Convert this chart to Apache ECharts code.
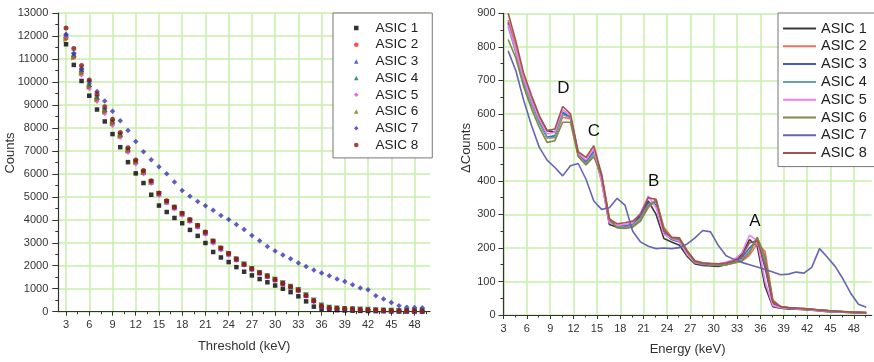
<!DOCTYPE html>
<html><head><meta charset="utf-8">
<script src="https://cdn.jsdelivr.net/npm/echarts@6/dist/echarts.min.js"></script>
<style>html,body{margin:0;padding:0;background:#fff}#c{width:874px;height:362px}</style>
</head><body><div id="c"></div>
<script>
// ---------- Data ----------
const asicNames = ['ASIC 1','ASIC 2','ASIC 3','ASIC 4','ASIC 5','ASIC 6','ASIC 7','ASIC 8'];

// Left chart: integral counts vs threshold
const thresholds = [3,4,5,6,7,8,9,10,11,12,13,14,15,16,17,18,19,20,21,22,23,24,25,26,27,28,29,30,31,32,33,34,35,36,37,38,39,40,41,42,43,44,45,46,47,48,49];
const counts1 = [11640,10740,10040,9400,8800,8280,7730,7160,6510,6020,5600,5090,4620,4340,4080,3850,3560,3300,2990,2600,2360,2160,1940,1740,1580,1420,1280,1140,1000,850,670,450,220,120,100,70,55,45,35,30,25,20,15,12,10,8,6];
const counts2 = [11900,11100,10400,9800,9250,8720,8200,7650,7000,6500,6050,5630,5120,4780,4520,4250,3960,3720,3430,3050,2740,2510,2270,2060,1860,1690,1540,1390,1230,1080,930,700,470,250,170,150,125,115,105,90,75,60,50,45,40,35,30];
const counts3 = [12050,11200,10550,9900,9350,8800,8280,7720,7060,6550,6090,5660,5140,4790,4530,4260,3980,3730,3440,3060,2750,2520,2280,2060,1870,1700,1550,1400,1240,1090,940,720,490,270,180,155,130,118,105,92,78,63,52,46,41,36,31];
const counts4 = [11950,11150,10450,9850,9300,8750,8230,7680,7030,6520,6070,5640,5130,4790,4530,4260,3970,3730,3440,3060,2750,2520,2280,2070,1870,1700,1550,1400,1250,1100,950,730,500,280,185,155,130,118,105,92,78,63,52,46,41,36,31];
const counts5 = [11950,11050,10300,9700,9150,8620,8100,7580,6930,6430,5990,5580,5060,4730,4470,4200,3910,3680,3370,2980,2690,2460,2230,2020,1830,1660,1510,1360,1210,1060,900,670,430,220,150,130,115,105,95,82,70,58,48,42,38,33,28];
const counts6 = [11850,11050,10380,9780,9230,8700,8190,7640,7000,6500,6060,5640,5140,4800,4540,4270,3990,3750,3460,3090,2780,2550,2310,2090,1890,1720,1570,1420,1260,1110,960,740,510,290,190,158,132,120,108,95,80,65,54,48,43,38,33];
const counts7 = [12070,11250,10570,10030,9580,9170,8720,8310,7890,7410,6960,6610,6310,6000,5650,5280,5020,4800,4610,4410,4190,4010,3800,3580,3320,3090,2840,2640,2470,2300,2120,1970,1820,1680,1560,1420,1310,1170,1030,950,690,550,400,255,195,180,175];
const counts8 = [12350,11450,10720,10080,9480,8920,8380,7800,7130,6600,6150,5700,5170,4830,4560,4290,4010,3760,3470,3080,2770,2530,2290,2070,1870,1700,1550,1400,1240,1090,940,710,480,250,170,150,130,115,100,90,75,60,50,45,40,35,30];

// Right chart: differential counts vs energy
const energies = [3.6,4.6,5.6,6.6,7.6,8.6,9.6,10.6,11.6,12.6,13.6,14.6,15.6,16.6,17.6,18.6,19.6,20.6,21.6,22.6,23.6,24.6,25.6,26.6,27.6,28.6,29.6,30.6,31.6,32.6,33.6,34.6,35.6,36.6,37.6,38.6,39.6,40.6,41.6,42.6,43.6,44.6,45.6,46.6,47.6,48.6,49.6];
const delta1 = [875,795,705,645,590,550,545,600,590,480,460,490,400,270,262,265,270,300,340,300,228,218,208,175,152,148,146,145,150,158,180,225,205,85,25,20,18,17,16,14,12,10,9,8,7,6,5];
const delta2 = [880,800,710,640,580,528,530,590,585,480,450,480,420,290,262,260,265,282,320,345,262,232,228,190,160,155,152,150,150,155,160,178,214,190,45,25,22,20,19,17,15,13,11,10,9,8,7];
const delta3 = [870,785,695,630,575,530,535,605,590,478,455,488,405,278,264,266,270,292,335,330,245,225,218,182,156,150,149,148,152,160,170,200,222,140,35,22,20,19,18,16,14,12,10,9,8,7,6];
const delta4 = [860,780,690,628,572,528,530,598,588,475,452,482,410,282,262,262,268,288,328,338,255,228,222,185,158,152,150,148,150,156,165,190,230,165,40,24,21,20,18,17,15,13,11,10,9,8,7];
const delta5 = [865,790,705,640,585,540,545,612,595,482,462,495,395,275,268,270,275,305,355,320,240,228,220,180,156,152,150,152,158,165,185,238,222,100,28,22,20,18,17,15,13,11,10,9,8,7,6];
const delta6 = [822,765,680,615,560,515,520,575,575,472,448,472,415,285,260,258,262,280,325,342,258,230,225,188,158,153,150,149,150,155,162,185,232,175,42,25,22,21,19,17,15,13,12,10,9,8,7];
const delta7 = [788,728,640,565,500,462,440,415,445,452,405,340,315,320,348,328,250,218,205,198,200,198,201,212,230,252,248,207,177,166,157,150,143,136,128,120,122,128,125,142,198,172,145,108,65,32,23];
const delta8 = [900,815,720,655,595,550,555,622,600,487,470,505,420,285,272,275,280,300,350,345,250,232,230,192,162,156,154,153,155,162,175,215,222,150,38,25,22,20,19,17,15,13,12,10,9,8,7];

// Peak annotations
const peakLabels = ['D','C','B','A'];
const peakEnergy = [10.7,14.6,22.3,35.3];
const peakCounts = [676,547,398,278];

// Tick labels
const xMajorTicks = [3,6,9,12,15,18,21,24,27,30,33,36,39,42,45,48];
const xMinorTicks = [4.5,7.5,10.5,13.5,16.5,19.5,22.5,25.5,28.5,31.5,34.5,37.5,40.5,43.5,46.5,49.5];

// ---------- Styles ----------
const scatterColors = ['#000000','#ff2020','#2a3ad8','#137070','#e040e0','#7d7d00','#3535b5','#8a1010'];
const scatterSymbols = ['rect','circle','triangle','triangle','diamond','triangle','diamond','circle'];
const scatterRotate = [0,0,0,180,0,-90,0,0];
const scatterSizes = [4.5,4.5,5.5,5.5,5,5.5,5.5,5];
const lineColors = ['#3a3a3a','#f07058','#3d5fc6','#62a6a6','#f080ee','#858545','#6565b5','#a35252'];

const countsAll = [counts1,counts2,counts3,counts4,counts5,counts6,counts7,counts8];
const deltaAll = [delta1,delta2,delta3,delta4,delta5,delta6,delta7,delta8];

const FONT = 'Liberation Sans, Arial, sans-serif';
const GRIDC = '#c8eeaa';
const AXC = '#333';

function zip(xs, ys){ return xs.map((x,i)=>[x, ys[i]]); }

function mainX(gridIndex, min, max, name){
  return {
    type:'value', gridIndex, min, max, position:'bottom',
    name, nameLocation:'middle', nameGap:28,
    nameTextStyle:{fontFamily:FONT, fontSize:13, color:'#333'},
    axisLine:{show:true, onZero:false, lineStyle:{color:AXC, width:1.2}},
    axisTick:{show:true, inside:false, length:4, customValues:xMajorTicks, lineStyle:{color:AXC}},
    axisLabel:{customValues:xMajorTicks, margin:8, fontFamily:FONT, fontSize:11, color:'#333'},
    splitLine:{show:true, lineStyle:{color:GRIDC, width:1.5}}
  };
}
function minorX(gridIndex, min, max){
  return {
    type:'value', gridIndex, min, max, position:'bottom',
    axisLine:{show:false},
    axisTick:{show:true, inside:false, length:2.5, customValues:xMinorTicks, lineStyle:{color:AXC}},
    axisLabel:{show:false}, splitLine:{show:false}
  };
}
function yAx(gridIndex, max, interval, tickLen, margin){
  return {
    type:'value', gridIndex, min:0, max, interval,
    axisLine:{show:true, lineStyle:{color:AXC, width:1.2}},
    axisTick:{show:true, inside:false, length:tickLen, lineStyle:{color:AXC}},
    minorTick:{show:true, splitNumber:2, length:3, lineStyle:{color:AXC}},
    axisLabel:{margin, fontFamily:FONT, fontSize:11, color:'#333', formatter:(v)=>String(v)},
    splitLine:{show:true, lineStyle:{color:GRIDC, width:1.5}}
  };
}

const series = [];
asicNames.forEach((n,i)=>{
  series.push({
    name:n, type:'scatter', xAxisIndex:0, yAxisIndex:0,
    symbol:scatterSymbols[i], symbolRotate:scatterRotate[i], symbolSize:scatterSizes[i],
    itemStyle:{color:scatterColors[i]},
    data:zip(thresholds, countsAll[i])
  });
});
const lineNames = asicNames.map(n=>n+' ');
asicNames.forEach((n,i)=>{
  series.push({
    name:lineNames[i], type:'line', xAxisIndex:2, yAxisIndex:1,
    showSymbol:false, symbol:'none',
    lineStyle:{color:lineColors[i], width:1.6}, itemStyle:{color:lineColors[i]},
    data:zip(energies, deltaAll[i])
  });
});
series.push({
  name:'peaks', type:'scatter', xAxisIndex:2, yAxisIndex:1, symbolSize:0,
  label:{show:true, position:'inside', formatter:'{b}', fontFamily:'Liberation Sans, Arial, sans-serif', fontSize:17, color:'#111', opacity:1},
  data:peakLabels.map((l,i)=>({name:l, value:[peakEnergy[i], peakCounts[i]]})),
  z:10
});

const option = {
  animation:false,
  backgroundColor:'#fff',
  grid:[
    {left:58.3, top:13, width:371.7, height:298.7},
    {left:503.5, top:13.3, width:368.2, height:301.7}
  ],
  xAxis:[
    mainX(0, 2, 50, 'Threshold (keV)'),
    minorX(0, 2, 50),
    mainX(1, 3, 50.3, 'Energy (keV)'),
    minorX(1, 3, 50.3)
  ],
  yAxis:[ yAx(0, 13000, 1000, 6, 10), yAx(1, 900, 100, 5, 8) ],
  legend:[
    {
      data:asicNames, orient:'vertical', left:333, top:13,
      padding:[8,14,6,21], itemWidth:4.5, itemHeight:4.5, itemGap:2.7,
      backgroundColor:'#fff', borderColor:'#777', borderWidth:1, borderRadius:0,
      textStyle:{fontFamily:FONT, fontSize:13.5, color:'#222', lineHeight:14, padding:[0,0,0,12]},
      selectedMode:false
    },
    {
      data:lineNames.map(n=>({name:n, icon:'rect'})), orient:'vertical', left:778, top:13,
      padding:[8,12,6,5], itemWidth:33, itemHeight:2, itemGap:2.8,
      backgroundColor:'#fff', borderColor:'#777', borderWidth:1, borderRadius:0,
      textStyle:{fontFamily:FONT, fontSize:14.5, color:'#222', lineHeight:14},
      formatter:(n)=>n.trim(),
      selectedMode:false
    }
  ],
  graphic:[
    {type:'text', x:10, y:153, rotation:Math.PI/2,
     style:{text:'Counts', font:'13px Liberation Sans, Arial, sans-serif', fill:'#333', align:'center', verticalAlign:'middle'}},
    {type:'text', x:466, y:148, rotation:Math.PI/2,
     style:{text:'ΔCounts', font:'13px Liberation Sans, Arial, sans-serif', fill:'#333', align:'center', verticalAlign:'middle'}}
  ],
  series
};
const chart = echarts.init(document.getElementById('c'));
chart.setOption(option);
</script>
</body></html>
